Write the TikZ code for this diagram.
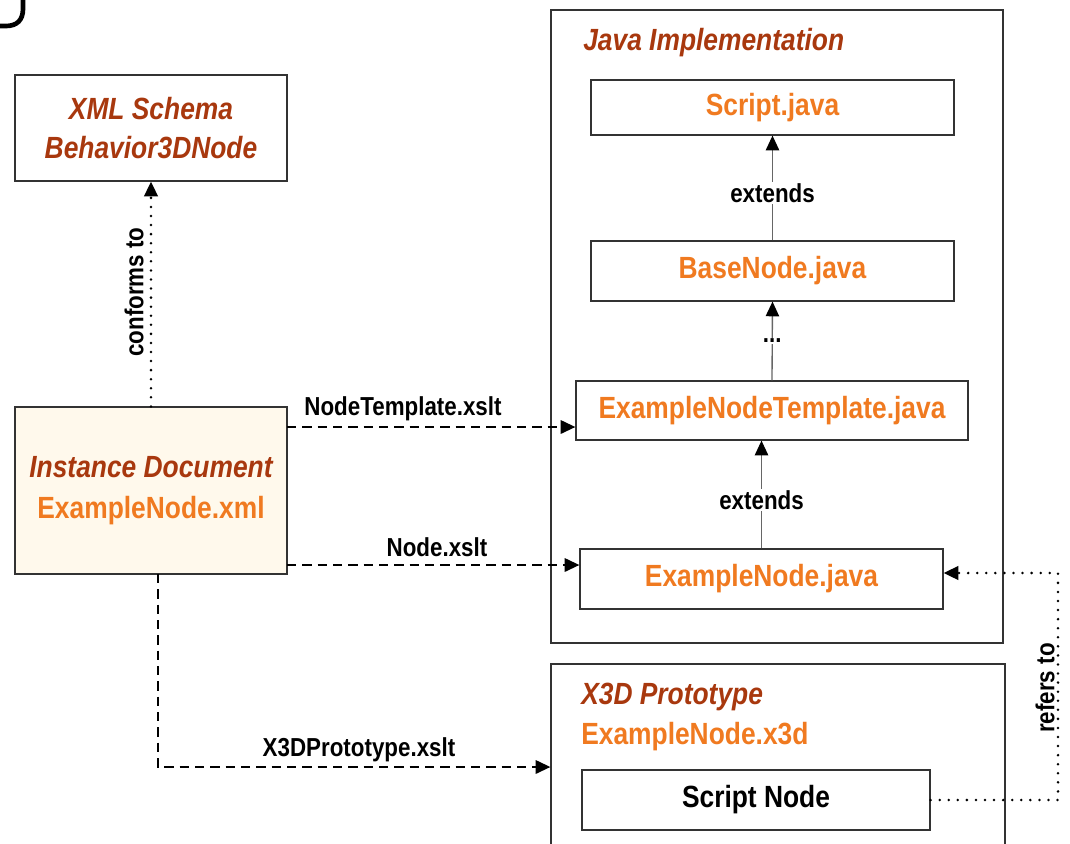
\documentclass[tikz,border=0pt]{standalone}
\usepackage{fontspec}
\setmainfont[FakeStretch=0.86]{Liberation Sans}
\usetikzlibrary{arrows.meta,calc}
\definecolor{dred}{HTML}{A8380E}
\definecolor{orng}{HTML}{F07A20}
\definecolor{cream}{HTML}{FFF9EC}
\definecolor{edge}{HTML}{333333}
\begin{document}
\begin{tikzpicture}[x=0.75pt,y=-0.75pt,
  box/.style={draw=edge,line width=0.9pt,inner sep=0pt,font=\fontsize{23}{27}\selectfont\bfseries,text=orng},
  lbl/.style={font=\fontsize{19.5}{23}\selectfont\bfseries,text=black,inner sep=1pt},
  tip/.style={-{Triangle[length=11pt,width=10pt,color=black]}},
  dashedarrow/.style={tip,line width=1.6pt,dash pattern=on 7pt off 4.5pt},
  dottedline/.style={line width=2.1pt,line cap=round,dash pattern=on 0pt off 6.8pt},
  extline/.style={tip,draw=gray!80!black,line width=1pt}]
\useasboundingbox (0,0) rectangle (1070,843);
\clip (0,0) rectangle (1070,843);
% partial shape top-left
\draw[line width=3.5pt] (-2,26) -- (6,26) .. controls (17,26) and (23,20) .. (23,9) -- (23,-3);
% containers
\node[draw=edge,line width=0.9pt,minimum width=339pt,minimum height=474.75pt,inner sep=0pt] (javac) at (777,326.5) {};
\node[draw=edge,line width=0.9pt,minimum width=340.5pt,minimum height=150pt,inner sep=0pt] (x3dc) at (778,764) {};
\node[anchor=west,font=\fontsize{23}{27}\selectfont\bfseries\itshape,text=dred,inner sep=0pt] (javat) at (583,43) {Java Implementation};
\node[anchor=west,font=\fontsize{23}{27}\selectfont\bfseries\itshape,text=dred,inner sep=0pt] (x3dt) at (581,697) {X3D Prototype};
\node[anchor=west,font=\fontsize{23}{27}\selectfont\bfseries,text=orng,inner sep=0pt] (x3df) at (581,737) {ExampleNode.x3d};
% boxes
\node[box,minimum width=204pt,minimum height=79.5pt,align=center] (xml) at (151,128)
  {\textcolor{dred}{\itshape XML Schema}\\[2pt]\textcolor{dred}{\itshape Behavior3DNode}};
\node[box,fill=cream,minimum width=204pt,minimum height=125.25pt,align=center] (inst) at (151,490.5)
  {\textcolor{dred}{\itshape Instance Document}\\[4pt]ExampleNode.xml};
\node[box,minimum width=272.25pt,minimum height=41.25pt] (script) at (772.5,107.5) {Script.java};
\node[box,minimum width=272.25pt,minimum height=45pt] (base) at (772.5,271) {BaseNode.java};
\node[box,minimum width=294pt,minimum height=44.25pt] (ent) at (772,410.5) {ExampleNodeTemplate.java};
\node[box,minimum width=272.25pt,minimum height=45pt] (en) at (761.5,579) {ExampleNode.java};
\node[box,text=black,minimum width=261pt,minimum height=45pt] (sn) at (756,800) {Script Node};
% inheritance
\draw[extline] (base.north) -- node[lbl,fill=white,pos=0.45] {extends} (script.south);
\draw[extline] (ent.north) -- node[lbl,fill=white,pos=0.5] {...} (base.south);
\draw[extline] (en.north) -- node[lbl,fill=white,pos=0.45] {extends} (en.north |- ent.south);
% conforms
\draw[dottedline,tip] (inst.north) -- (xml.south);
\node[lbl,rotate=90] (conf) at (134,292) {conforms to};
% xslt arrows
\coordinate (p1) at (287,427);
\coordinate (p2) at (287,565);
\coordinate (p3) at (158,574);
\coordinate (p4) at (158,767);
\draw[dashedarrow] (p1) -- (ent.west |- p1);
\node[lbl] (l1) at (403,409) {NodeTemplate.xslt};
\draw[dashedarrow] (p2) -- (en.west |- p2);
\node[lbl] (l2) at (437,547) {Node.xslt};
\draw[dashedarrow] (p3) -- (p4) -- (x3dc.west |- p4);
\node[lbl] (l3) at (359,750) {X3DPrototype.xslt};
% refers to
\coordinate (r1) at (1058,800);
\coordinate (r2) at (1058,573);
\draw[dottedline,tip] (sn.east) -- (r1) -- (r2) -- (en.east |- r2);
\node[lbl,rotate=90] (ref) at (1045,688) {refers to};
\end{tikzpicture}
\end{document}
